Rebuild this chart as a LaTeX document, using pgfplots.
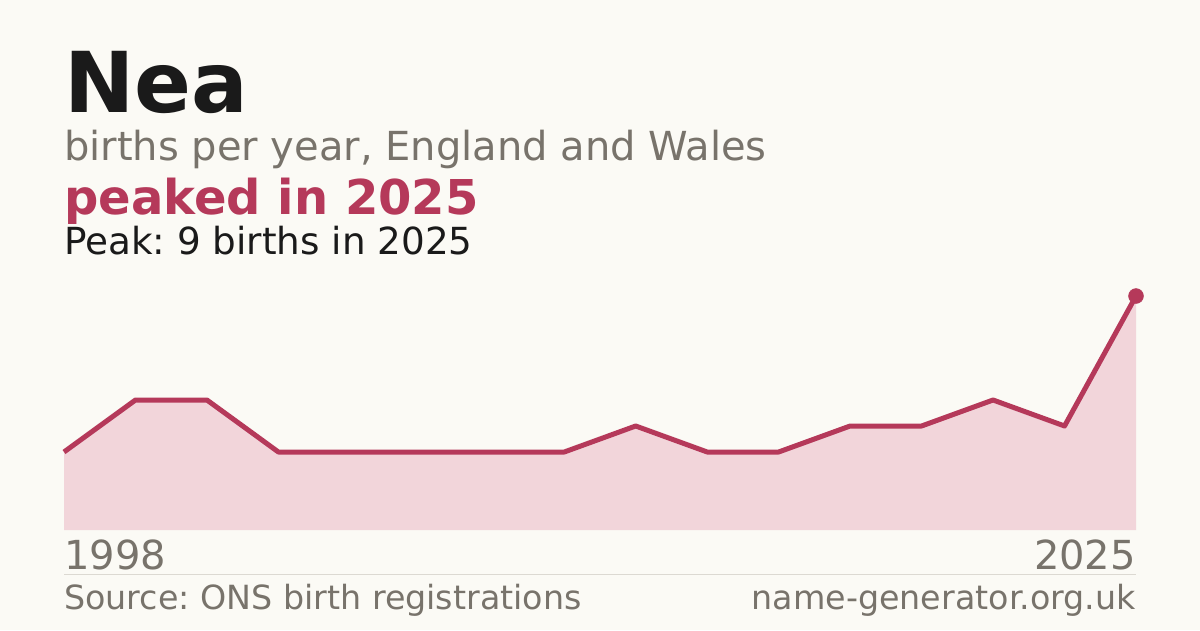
\documentclass[border=0pt]{standalone}
\usepackage{pgfplots}
\pgfplotsset{compat=1.18}
\usepackage{fontspec}
\setmainfont{DejaVu Sans}
\frenchspacing
\definecolor{bg}{HTML}{FBFAF5}
\definecolor{ink}{HTML}{1A1A1A}
\definecolor{muted}{HTML}{78736B}
\definecolor{accent}{HTML}{B5395A}
\definecolor{areafill}{HTML}{F2D5DA}
\definecolor{rule}{HTML}{DCD9D2}
\begin{document}
\begin{tikzpicture}[x=1pt,y=1pt]
\fill[bg] (0,0) rectangle (1200,630);
\useasboundingbox (0,0) rectangle (1200,630);
\node[anchor=base west,inner sep=0,text=ink] at (64,517) {\fontsize{84}{84}\selectfont\bfseries Nea};
\node[anchor=base west,inner sep=0,text=muted] at (64,469) {\fontsize{40}{40}\selectfont births per year, England and Wales};
\node[anchor=base west,inner sep=0,text=accent] at (64,415) {\fontsize{48}{48}\selectfont\bfseries peaked in 2025};
\node[anchor=base west,inner sep=0,text=ink] at (64,375) {\fontsize{37.3}{37}\selectfont Peak: 9 births in 2025};
\begin{axis}[at={(64pt,100pt)},anchor=south west,scale only axis,
  width=1072pt,height=234pt,xmin=0,xmax=15,ymin=0,ymax=9,
  hide axis,clip=false]
\addplot[fill=areafill,draw=none] coordinates {(0,3)(1,5)(2,5)(3,3)(4,3)(5,3)(6,3)(7,3)(8,4)(9,3)(10,3)(11,4)(12,4)(13,5)(14,4)(15,9)} \closedcycle;
\addplot[accent,line width=5pt,line join=round] coordinates {(0,3)(1,5)(2,5)(3,3)(4,3)(5,3)(6,3)(7,3)(8,4)(9,3)(10,3)(11,4)(12,4)(13,5)(14,4)(15,9)};
\addplot[only marks,mark=*,mark size=7.5pt,mark options={fill=accent,draw=accent}] coordinates {(15,9)};
\end{axis}
\node[anchor=base west,inner sep=0,text=muted] at (64,61) {\fontsize{40}{40}\selectfont 1998};
\node[anchor=base east,inner sep=0,text=muted] at (1136,61) {\fontsize{40}{40}\selectfont 2025};
\draw[rule,line width=1pt] (64,56) -- (1136,56);
\node[anchor=base west,inner sep=0,text=muted] at (64,21) {\fontsize{33.3}{33}\selectfont Source: ONS birth registrations};
\node[anchor=base east,inner sep=0,text=muted] at (1136,21) {\fontsize{33.3}{33}\selectfont name-generator.org.uk};
\end{tikzpicture}
\end{document}
